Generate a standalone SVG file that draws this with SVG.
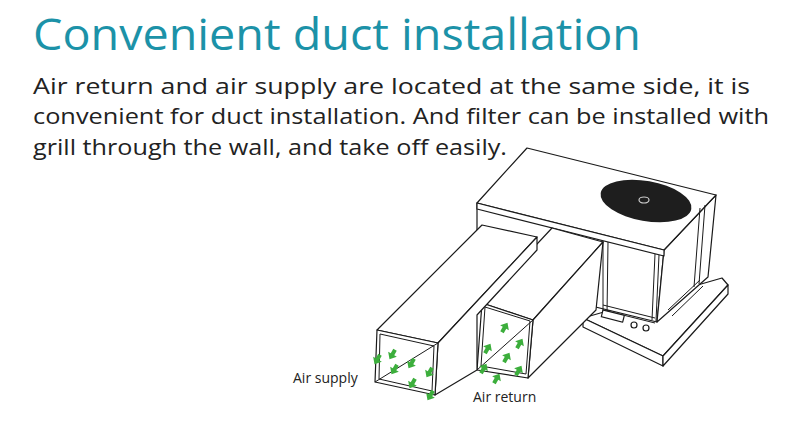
<svg xmlns="http://www.w3.org/2000/svg" width="804" height="445" viewBox="0 0 804 445">
<style>
.t{font-family:"Open Sans","Liberation Sans",sans-serif}
.ln{fill:#fff;stroke:#1a1a1a;stroke-width:1.2;stroke-linejoin:round}
.l{fill:none;stroke:#1a1a1a;stroke-width:1}
.g{fill:#3cae3c}
</style>
<defs>
<path id="ar" d="M0,-5 L5,1 L2,1 L2,6 L-2,6 L-2,1 L-5,1 Z"/>
</defs>
<rect width="804" height="445" fill="#fff"/>
<text class="t" x="33" y="50" font-size="43" font-weight="500" fill="#1c92a8" textLength="608" lengthAdjust="spacingAndGlyphs">Convenient duct installation</text>
<g class="t" font-size="21" fill="#222">
<text x="33" y="94" textLength="717" lengthAdjust="spacingAndGlyphs">Air return and air supply are located at the same side, it is</text>
<text x="33" y="124" textLength="736" lengthAdjust="spacingAndGlyphs">convenient for duct installation. And filter can be installed with</text>
<text x="33" y="155" textLength="474" lengthAdjust="spacingAndGlyphs">grill through the wall, and take off easily.</text>
</g>
<g id="base">
<path class="ln" d="M583,318 L663,356 L728,285 L722,278 Z"/>
<path class="ln" d="M583,318 L583,327 L663,366 L663,356 Z"/>
<path class="ln" d="M663,356 L728,285 L728,294 L663,366 Z"/>
</g>
<g id="unit">
<path class="ln" d="M477,203 L664,250 L657,322 L477,278 Z"/>
<path class="ln" d="M664,250 L716,195 L708,277 L657,322 Z"/>
<path class="ln" d="M527,148 L716,195 L664,250 L477,203 Z"/>
<path class="ln" d="M477,203 L664,250 L664,256 L477,209 Z"/>
<path class="l" d="M603,241 L603,313 M608,242 L607,314 M655,254 L652,320 M659,255 L656,321 M700,208 L694,287 M705,205 L699,284"/>
<path class="l" d="M603,305 L655,318 M603,310 L655,323"/>
<rect class="ln" x="603" y="310" width="22" height="7" transform="rotate(14 603 310)"/>
<circle class="ln" cx="634" cy="325" r="3"/>
<circle class="ln" cx="646" cy="328" r="3"/>
<path class="l" d="M668,310 L700,280 M672,316 L703,286"/>
<ellipse cx="646" cy="201" rx="46" ry="20" transform="rotate(10 646 201)" fill="#1e1e1e"/>
<ellipse cx="644" cy="200" rx="5" ry="3" fill="none" stroke="#ccc" stroke-width="1.2"/>
</g>
<g id="return-duct">
<path class="ln" d="M552,228 L603,242 L533,320 L482,303 Z"/>
<path class="ln" d="M533,320 L603,242 L596,310 L528,378 Z"/>
<path class="ln" d="M482,303 L533,320 L528,378 L477,370 Z"/>
<path class="l" d="M477,370 L533,320 M485,307 L530,321 L526,374 L481,366 Z"/>
<g class="g">
<use href="#ar" transform="translate(488,348) rotate(30)"/>
<use href="#ar" transform="translate(505,327) rotate(30)"/>
<use href="#ar" transform="translate(520,343) rotate(30)"/>
<use href="#ar" transform="translate(507,357) rotate(30)"/>
<use href="#ar" transform="translate(519,370) rotate(30)"/>
<use href="#ar" transform="translate(484,368) rotate(30)"/>
<use href="#ar" transform="translate(497,378) rotate(30)"/>
</g>
</g>
<g id="supply-duct">
<path class="ln" d="M482,225 L537,237 L438,343 L377,330 Z"/>
<path class="ln" d="M438,343 L537,237 L537,250 L477,315 L477,370 L435,395 Z"/>
<path class="ln" d="M377,330 L438,343 L435,395 L375,382 Z"/>
<path class="l" d="M375,382 L438,343 M380,334 L434,346 L432,391 L379,379 Z"/>
<g class="g">
<use href="#ar" transform="translate(392,355) rotate(210)"/>
<use href="#ar" transform="translate(411,364) rotate(210)"/>
<use href="#ar" transform="translate(429,373) rotate(210)"/>
<use href="#ar" transform="translate(394,370) rotate(210)"/>
<use href="#ar" transform="translate(412,384) rotate(210)"/>
<use href="#ar" transform="translate(377,360) rotate(210)"/>
<use href="#ar" transform="translate(430,396) rotate(210)"/>
</g>
</g>
<g class="t" font-size="14" fill="#222">
<text x="293" y="383">Air supply</text>
<text x="473" y="402">Air return</text>
</g>
</svg>
